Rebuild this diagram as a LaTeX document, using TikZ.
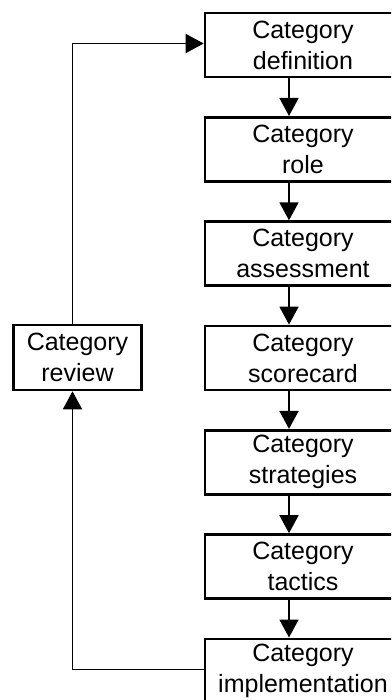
\documentclass[tikz,border=0pt]{standalone}
\usepackage{fontspec}
\setmainfont{Liberation Sans}
\usetikzlibrary{arrows.meta}
\begin{document}
\begin{tikzpicture}[x=1pt,y=-1pt,
  box/.style={draw, line width=2.6pt, minimum width=196pt, minimum height=64pt,
    inner sep=0pt, align=center, font=\fontsize{25}{31}\selectfont},
  revbox/.style={box, minimum width=128pt, minimum height=65pt},
  conn/.style={line width=1.7pt},
  arr/.style={conn, -{Triangle[length=18pt,width=19pt]}}]
\useasboundingbox (0,0) rectangle (391,700);
\fill[white] (0,0) rectangle (391,700);
\clip (0,0) rectangle (391,700);
\node[box] (b1) at (303,45) {Category\\definition};
\node[box] (b2) at (303,149.3) {Category\\role};
\node[box] (b3) at (303,253.6) {Category\\assessment};
\node[box] (b4) at (303,357.9) {Category\\scorecard};
\node[box] (b5) at (303,462.2) {Category\\strategies};
\node[box] (b6) at (303,566.5) {Category\\tactics};
\node[box] (b7) at (303,670.8) {Category\\implementation};
\node[revbox] (rev) at (77.5,357.5) {Category\\review};
\foreach \a/\b in {b1/b2,b2/b3,b3/b4,b4/b5,b5/b6,b6/b7}
  \draw[arr] ([xshift=-14pt]\a.south) -- ([xshift=-14pt]\b.north);
\coordinate (lt) at (72.5,43.5);
\coordinate (lb) at (72.5,669.5);
\draw[arr] (rev.north -| lt) -- (lt) -- (b1.west |- lt);
\draw[arr] (b7.west |- lb) -- (lb) -- (rev.south -| lb);
\end{tikzpicture}
\end{document}
